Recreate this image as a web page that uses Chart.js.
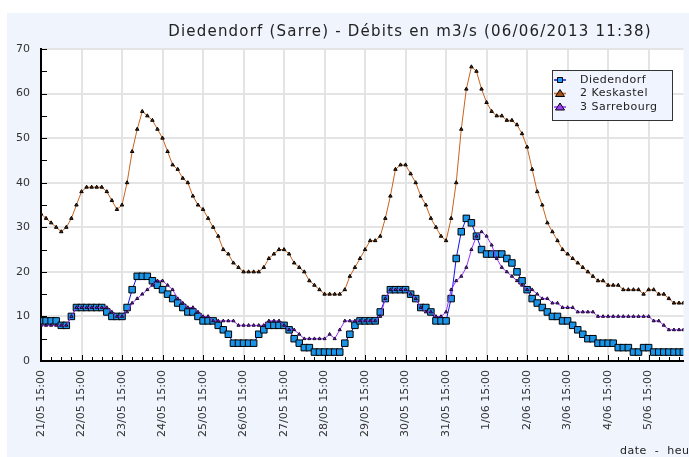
<!DOCTYPE html>
<html>
<head>
<meta charset="utf-8">
<title>Diedendorf (Sarre) - Débits</title>
<script src="https://cdn.jsdelivr.net/npm/chart.js@4.4.1/dist/chart.umd.min.js"></script>
<style>
  html, body { margin: 0; padding: 0; background: #fff; }
  #wrap { width: 689px; height: 457px; }
</style>
</head>
<body>
<div id="wrap"><canvas id="chartCanvas" width="689" height="457"></canvas></div>
<script>
// Diedendorf (Sarre) flows, one sample every 3 h from 21/05 15:00

const titleText = 'Diedendorf (Sarre) - Débits en m3/s (06/06/2013 11:38)';
const axisTitle = 'date  -  heure';
const seriesNames = ['Diedendorf', '2 Keskastel', '3 Sarrebourg'];

// tick labels, one per day at 15:00
const dayLabels = [
  '21/05 15:00', '22/05 15:00', '23/05 15:00', '24/05 15:00',
  '25/05 15:00', '26/05 15:00', '27/05 15:00', '28/05 15:00',
  '29/05 15:00', '30/05 15:00', '31/05 15:00', '1/06 15:00',
  '2/06 15:00', '3/06 15:00', '4/06 15:00', '5/06 15:00'
];

const stepHours = 3;
const lastHour = 380.6; // 06/06 11:38

// one row per day (8 samples)
const diedendorf = [
  9, 9, 9, 9, 8, 8, 10, 12,
  12, 12, 12, 12, 12, 11, 10, 10,
  10, 12, 16, 19, 19, 19, 18, 17,
  16, 15, 14, 13, 12, 11, 11, 10,
  9, 9, 9, 8, 7, 6, 4, 4,
  4, 4, 4, 6, 7, 8, 8, 8,
  8, 7, 5, 4, 3, 3, 2, 2,
  2, 2, 2, 2, 4, 6, 8, 9,
  9, 9, 9, 11, 14, 16, 16, 16,
  16, 15, 14, 12, 12, 11, 9, 9,
  9, 14, 23, 29, 32, 31, 28, 25,
  24, 24, 24, 24, 23, 22, 20, 18,
  16, 14, 13, 12, 11, 10, 10, 9,
  9, 8, 7, 6, 5, 5, 4, 4,
  4, 4, 3, 3, 3, 2, 2, 3,
  3, 2, 2, 2, 2, 2, 2, 2
];

const keskastel = [
  33, 32, 31, 30, 29, 30, 32, 35,
  38, 39, 39, 39, 39, 38, 36, 34,
  35, 40, 47, 52, 56, 55, 54, 52,
  50, 47, 44, 43, 41, 40, 37, 35,
  34, 32, 30, 28, 25, 24, 22, 21,
  20, 20, 20, 20, 21, 23, 24, 25,
  25, 24, 22, 21, 20, 18, 17, 16,
  15, 15, 15, 15, 16, 19, 21, 23,
  25, 27, 27, 28, 32, 37, 43, 44,
  44, 42, 40, 37, 35, 32, 30, 28,
  27, 32, 40, 52, 61, 66, 65, 61,
  58, 56, 55, 55, 54, 54, 53, 51,
  48, 43, 38, 35, 31, 29, 27, 25,
  24, 23, 22, 21, 20, 19, 18, 18,
  17, 17, 17, 16, 16, 16, 16, 15,
  16, 16, 15, 15, 14, 13, 13, 13
];

const sarrebourg = [
  8, 8, 8, 8, 8, 8, 10, 12,
  12, 12, 12, 12, 12, 12, 11, 10,
  10, 11, 13, 14, 15, 16, 17, 18,
  18, 17, 16, 14, 13, 12, 12, 11,
  10, 10, 9, 9, 9, 9, 9, 8,
  8, 8, 8, 8, 8, 9, 9, 9,
  8, 7, 7, 6, 5, 5, 5, 5,
  5, 6, 5, 7, 9, 9, 9, 9,
  9, 9, 9, 10, 14, 16, 16, 16,
  16, 15, 14, 12, 11, 11, 10, 10,
  11, 16, 18, 19, 21, 25, 28, 29,
  28, 26, 23, 21, 20, 19, 18, 17,
  16, 16, 15, 14, 14, 13, 13, 12,
  12, 12, 11, 11, 11, 11, 10, 10,
  10, 10, 10, 10, 10, 10, 10, 10,
  10, 9, 9, 8, 7, 7, 7, 7
];

function toPoints(values) {
  return values.map((v, i) => ({ x: Math.min(i * stepHours, lastHour), y: v }));
}

const FONT = 'DejaVu Sans';

// light blue panel + white plot area, title, axis title
const backgroundPlugin = {
  id: 'panelBackground',
  beforeDraw(chart) {
    const { ctx, chartArea } = chart;
    ctx.save();
    ctx.fillStyle = '#ffffff';
    ctx.fillRect(0, 0, chart.width, chart.height);
    ctx.fillStyle = '#eff4fd';
    ctx.fillRect(7, 13, chart.width - 7, chart.height - 13);
    ctx.fillStyle = '#ffffff';
    ctx.fillRect(chartArea.left, chartArea.top, chartArea.right - chartArea.left, chartArea.bottom - chartArea.top);
    ctx.restore();
  },
  afterDraw(chart) {
    const { ctx } = chart;
    ctx.save();
    ctx.fillStyle = '#222';
    ctx.font = '15px "' + FONT + '"';
    ctx.letterSpacing = '1.2px';
    ctx.textAlign = 'center';
    ctx.textBaseline = 'middle';
    ctx.fillText(titleText, 410, 32);
    ctx.font = '11px "' + FONT + '"';
    ctx.letterSpacing = '0.5px';
    ctx.textAlign = 'left';
    ctx.fillText(axisTitle, 620, 451);
    ctx.restore();
  }
};

// small tick marks pointing into the plot
const innerTicksPlugin = {
  id: 'innerTicks',
  afterDatasetsDraw(chart) {
    const { ctx, chartArea, scales } = chart;
    ctx.save();
    ctx.strokeStyle = '#000';
    ctx.lineWidth = 1;
    ctx.beginPath();
    for (let v = 5; v <= 70; v += 5) {
      const y = Math.round(scales.y.getPixelForValue(v)) + 0.5;
      ctx.moveTo(chartArea.left, y);
      ctx.lineTo(chartArea.left + 6, y);
    }
    for (let h = 6; h <= lastHour; h += 6) {
      const x = Math.round(scales.x.getPixelForValue(h)) + 0.5;
      ctx.moveTo(x, chartArea.bottom);
      ctx.lineTo(x, chartArea.bottom - (h % 24 === 0 ? 6 : 4));
    }
    ctx.stroke();
    ctx.restore();
  }
};

// legend box drawn inside the plot, top right
const legendPlugin = {
  id: 'boxLegend',
  afterDatasetsDraw(chart) {
    const { ctx } = chart;
    const box = { x: 552, y: 70, w: 120, h: 50 };
    ctx.save();
    ctx.fillStyle = '#f0f4fe';
    ctx.fillRect(box.x, box.y, box.w, box.h);
    ctx.strokeStyle = '#333';
    ctx.lineWidth = 1;
    ctx.strokeRect(box.x + 0.5, box.y + 0.5, box.w, box.h);
    chart.data.datasets.forEach((ds, i) => {
      const cy = 80 + i * 13.5;
      ctx.strokeStyle = ds.borderColor;
      ctx.lineWidth = 1.5;
      ctx.beginPath();
      ctx.moveTo(554, cy);
      ctx.lineTo(566, cy);
      ctx.stroke();
      ctx.fillStyle = ds.legendColor;
      ctx.strokeStyle = '#000';
      ctx.lineWidth = 1;
      ctx.beginPath();
      if (ds.pointStyle === 'rect') {
        ctx.rect(557.5, cy - 2.5, 5, 5);
      } else {
        ctx.moveTo(560, cy - 4);
        ctx.lineTo(564.5, cy + 3);
        ctx.lineTo(555.5, cy + 3);
        ctx.closePath();
      }
      ctx.fill();
      ctx.stroke();
      ctx.fillStyle = '#222';
      ctx.font = '11px "' + FONT + '"';
      ctx.letterSpacing = '0.5px';
      ctx.textAlign = 'left';
      ctx.textBaseline = 'middle';
      ctx.fillText(ds.label, 580, cy);
    });
    ctx.restore();
  }
};

const ctx = document.getElementById('chartCanvas').getContext('2d');
const chart = new Chart(ctx, {
  type: 'line',
  data: {
    datasets: [
      {
        label: seriesNames[0],
        data: toPoints(diedendorf),
        borderColor: '#1010ee',
        borderWidth: 1,
        pointStyle: 'rect',
        pointRadius: 4.6,
        pointBackgroundColor: '#1a94e6',
        legendColor: '#1aa0f0',
        pointBorderColor: '#000',
        pointBorderWidth: 1,
        order: 2
      },
      {
        label: seriesNames[1],
        data: toPoints(keskastel),
        borderColor: '#c8641e',
        borderWidth: 1,
        pointStyle: 'triangle',
        pointRadius: 2,
        pointBackgroundColor: '#5a2d0c',
        legendColor: '#a0521e',
        pointBorderColor: '#000',
        pointBorderWidth: 1,
        order: 1
      },
      {
        label: seriesNames[2],
        data: toPoints(sarrebourg),
        borderColor: '#9933ff',
        borderWidth: 1,
        pointStyle: 'triangle',
        pointRadius: 1.8,
        pointBackgroundColor: '#7a30c0',
        legendColor: '#a040ff',
        pointBorderColor: '#1a0630',
        pointBorderWidth: 1,
        order: 0
      }
    ]
  },
  options: {
    responsive: false,
    animation: false,
    layout: { padding: { top: 49, right: 4, left: 0, bottom: 0 } },
    elements: { line: { tension: 0, fill: false } },
    plugins: {
      legend: { display: false },
      title: { display: false },
      tooltip: { enabled: false }
    },
    scales: {
      x: {
        type: 'linear',
        min: 0,
        max: lastHour,
        afterBuildTicks: (scale) => {
          scale.ticks = dayLabels.map((_, i) => ({ value: i * 24 }));
        },
        afterFit: (scale) => { scale.height = 96; },
        ticks: {
          autoSkip: false,
          maxRotation: 90,
          minRotation: 90,
          padding: 9,
          color: '#333',
          font: { family: FONT, size: 11 },
          callback: (value) => dayLabels[Math.round(value / 24)]
        },
        grid: { color: '#e4e4e4', lineWidth: 2, drawTicks: false },
        border: { color: '#000', width: 2 }
      },
      y: {
        min: 0,
        max: 70,
        afterFit: (scale) => { scale.width = 41; },
        ticks: {
          stepSize: 10,
          padding: 11,
          color: '#333',
          font: { family: FONT, size: 11 }
        },
        grid: { color: '#e4e4e4', lineWidth: 2, drawTicks: false },
        border: { color: '#000', width: 2 }
      }
    }
  },
  plugins: [backgroundPlugin, innerTicksPlugin, legendPlugin]
});
</script>
</body>
</html>
